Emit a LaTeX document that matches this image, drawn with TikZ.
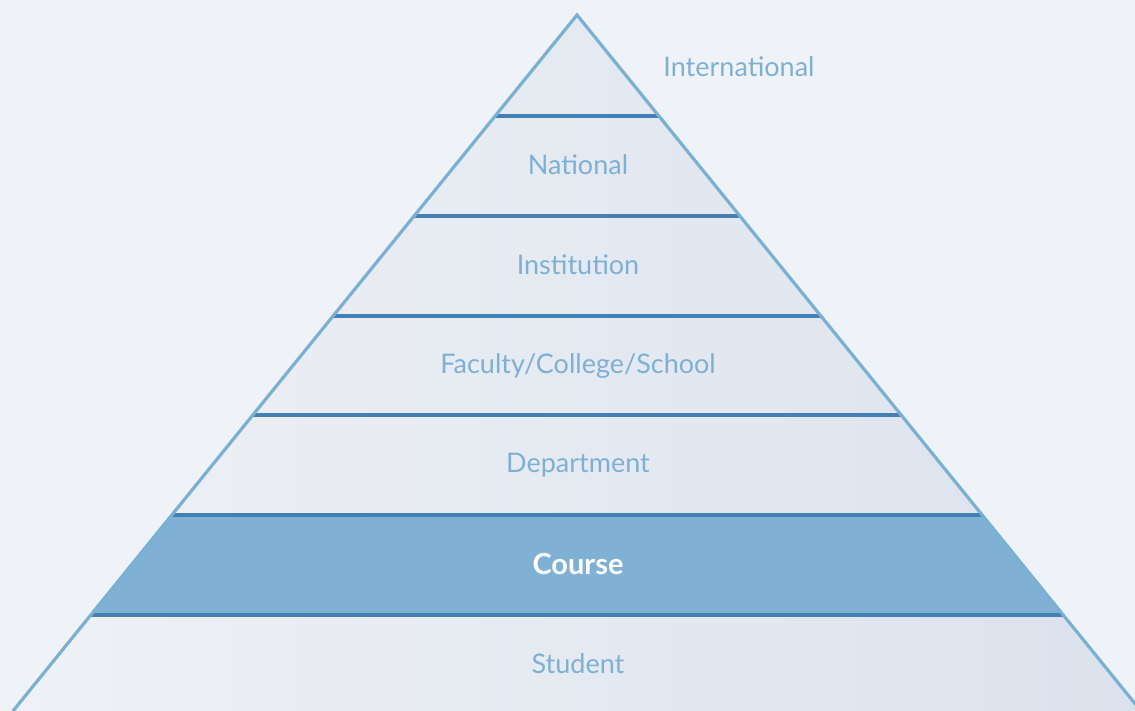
\documentclass[tikz,border=0pt]{standalone}
\usepackage{fontspec}
\setmainfont{Lato}
\definecolor{bgcol}{HTML}{EFF3F7}
\definecolor{fillleft}{HTML}{EEF1F5}
\definecolor{fillright}{HTML}{DCE2ED}
\definecolor{edgecol}{HTML}{7BB0D5}
\definecolor{divcol}{HTML}{4580B5}
\definecolor{coursecol}{HTML}{80B0D3}
\definecolor{labcol}{HTML}{7EB0D6}
\begin{document}
\begin{tikzpicture}[x=1pt,y=-1pt,
    lbl/.style={text=labcol, font=\fontsize{27}{32}\selectfont},
    lblbold/.style={text=white, font=\fontsize{29}{34}\selectfont\bfseries}]
        \useasboundingbox (0,0) rectangle (1135,711);
        \fill[bgcol] (0,0) rectangle (1135,711);

        % body of the pyramid
        \begin{scope}
        \clip (0,0) rectangle (1135,711);
        \shade[left color=fillleft, right color=fillright] (577,15) -- (1141,711) -- (13,711) -- cycle;
        \end{scope}
        \fill[coursecol] (173,515) -- (982,515) -- (1062,615) -- (92,615) -- cycle;

        \foreach \y in {116,216,316,415,515,615} {
                \draw [draw=divcol, line width=3.5pt] ({577-0.81*(\y-15)},\y) -- ({577+0.81*(\y-15)},\y);
        }
        \draw [draw=edgecol, line width=3.2pt, line join=miter] (13,711) -- (577,15) -- (1141,711);

        \node[lbl] (intl) at (739,67) {International};
        \node[lbl] (natl) at (578,165) {National};
        \node[lbl] (inst) at (578,265) {Institution};
        \node[lbl] (fac) at (578,366) {Faculty/College/School};
        \node[lbl] (dept) at (578,465) {Department};
        \node[lblbold] (course) at (578,564) {Course};
        \node[lbl] (student) at (578,664) {Student};

\end{tikzpicture}
\end{document}
